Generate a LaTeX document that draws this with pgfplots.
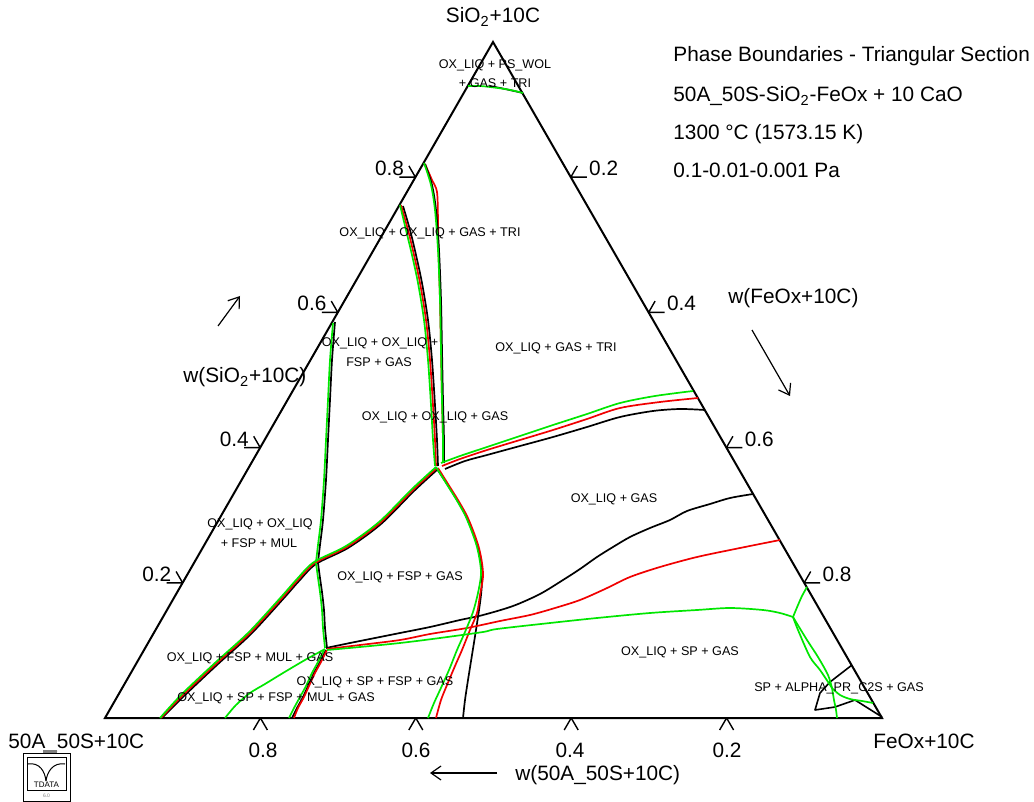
\documentclass[border=0pt]{standalone}
\usepackage{fontspec}
\setmainfont{Liberation Sans}
\usepackage{pgfplots}
\pgfplotsset{compat=1.18}
\usetikzlibrary{arrows.meta}
\newcommand{\lab}{\fontsize{10.4}{12}\selectfont}
\newcommand{\reg}{\fontsize{6.3}{7.5}\selectfont}
\definecolor{pgreen}{RGB}{0,230,0}
\definecolor{pred}{RGB}{240,0,0}
\begin{document}
\begin{tikzpicture}
\begin{axis}[scale only axis, width=517pt, height=401pt,
  xmin=0, xmax=1034, ymin=0, ymax=802, y dir=reverse,
  hide axis, clip=false,
  every axis plot/.append style={no markers, line join=round},
  blk/.style={black, line width=0.85pt, smooth, tension=0.5},
  rd/.style={pred, line width=0.85pt, smooth, tension=0.5},
  gr/.style={pgreen, line width=0.85pt, smooth, tension=0.5},
  tk/.style={black, line width=0.7pt}]
\addplot[draw=none] coordinates {(0,0) (1034,802)};
% triangle frame
\addplot[black, line width=1pt, line join=miter] coordinates {(105,718) (882,718) (493,42)} -- cycle;
% ticks left (SiO2)
\addplot[tk] coordinates {(166.6,582.8) (182.6,582.8) (176.1,571.5)};
\addplot[tk] coordinates {(244.2,447.6) (260.2,447.6) (253.7,436.3)};
\addplot[tk] coordinates {(321.8,312.4) (337.8,312.4) (331.3,301.1)};
\addplot[tk] coordinates {(399.4,177.2) (415.4,177.2) (408.9,165.9)};
% ticks right (FeOx)
\addplot[tk] coordinates {(586.8,177.2) (570.8,177.2) (577.3,165.9)};
\addplot[tk] coordinates {(664.6,312.4) (648.6,312.4) (655.1,301.1)};
\addplot[tk] coordinates {(742.4,447.6) (726.4,447.6) (732.9,436.3)};
\addplot[tk] coordinates {(820.2,582.8) (804.2,582.8) (810.7,571.5)};
% ticks bottom (50A_50S)
\addplot[tk] coordinates {(253.4,730) (260.4,718) (267.4,730)};
\addplot[tk] coordinates {(408.8,730) (415.8,718) (422.8,730)};
\addplot[tk] coordinates {(564.2,730) (571.2,718) (578.2,730)};
\addplot[tk] coordinates {(719.6,730) (726.6,718) (733.6,730)};

% ---------------- red boundaries (drawn first) ----------------
\addplot[rd] coordinates {(425,164) (432,180) (437,192) (438,220) (438.5,250) (440,300) (441,350) (442,400) (443,440) (443,462)};

% ---------------- black boundaries ----------------
\addplot[blk] coordinates {(490,86) (505,89) (523,93)};
\addplot[blk] coordinates {(425,164) (432,185) (436,210) (439,250) (441,300) (442,350) (443,400) (444,440) (444,463)};
\addplot[blk] coordinates {(403,206) (410,230) (416,255) (422,283) (428,320) (432,360) (435,405) (437,440) (438,466)};
\addplot[blk] coordinates {(445,469) (465,461) (487,455) (520,446) (553,437) (587,427) (620,417) (653,411) (680,409) (705,410)};
\addplot[blk] coordinates {(438,469) (414,491) (381,524) (348,548) (316,564) (299,581) (284,598) (251,634) (218,664) (184,696) (162,718)};
\addplot[blk] coordinates {(437,469) (447,484) (457,500) (466,516) (473,533) (478,548) (481,563) (482,580) (481,595) (479,610) (476,630) (472,655) (468,680) (465,700) (463,718)};
\addplot[blk] coordinates {(335,322) (332,360) (330,400) (328,440) (326,480) (323,520) (320,545) (318,562)};
\addplot[blk] coordinates {(318,563) (320,578) (322,592) (324,610) (325,628) (327,648)};
\addplot[blk] coordinates {(326,648) (350,643) (375,638) (400,633) (430,627) (460,620) (483,615) (513,606) (540,594) (563,580) (580,569) (597,557) (613,547) (630,537) (650,528) (670,520) (687,511) (710,504) (730,498) (753,494)};
\addplot[blk] coordinates {(326,650) (320,662) (314,673) (308,686) (303,697) (297,708) (292,718)};
\addplot[black, line width=0.8pt] coordinates {(852,665) (830,682) (820,693) (815,710) (835,707) (855,700) (882,717)};

% ---------------- red boundaries ----------------
\addplot[rd] coordinates {(401,205) (408,230) (414,255) (420,283) (426,320) (430,360) (433,405) (435,440) (436,466)};
\addplot[rd] coordinates {(442,466) (460,459) (487,450) (520,440) (553,430) (587,419) (620,408) (660,402) (698,398)};
\addplot[rd] coordinates {(437,468) (413,490) (380,523) (347,547) (315,563) (298,580) (283,597) (250,633) (217,663) (183,695) (161,718)};
\addplot[rd] coordinates {(438,468) (448,484) (458,500) (467,516) (474,533) (479,548) (482,563) (483,577) (480,595) (477,613) (470,630) (462,650) (455,666) (447,685) (441,700) (436,718)};
\addplot[rd] coordinates {(327,649) (360,645) (400,640) (430,634) (467,628) (500,621) (530,615) (555,608) (580,600) (605,589) (630,577) (660,567) (697,557) (740,548) (780,540)};
\addplot[rd] coordinates {(327,650) (321,662) (315,673) (309,686) (304,697) (298,708) (294,718)};

% ---------------- green boundaries ----------------
\addplot[gr] coordinates {(468,86) (480,86) (490,87) (505,89) (515,91) (523,93)};
\addplot[gr] coordinates {(424,163) (431,185) (435,210) (438,250) (440,300) (441,350) (442,400) (443,440) (443,462)};
\addplot[gr] coordinates {(400,205) (406,230) (412,255) (418,283) (424,320) (428,360) (431,405) (433,440) (435,466)};
\addplot[gr] coordinates {(441,463) (460,456) (487,447) (520,436) (553,425) (587,414) (620,403) (655,396) (693,391)};
\addplot[gr] coordinates {(436,467) (412,489) (379,522) (346,546) (314,562) (297,579) (282,596) (249,632) (216,662) (182,694) (160,718)};
\addplot[gr] coordinates {(436,467) (446,483) (456,499) (465,515) (472,532) (477,547) (480,562) (481,575) (478,593) (473,612) (465,632) (457,650) (449,670) (440,690) (434,703) (428,718)};
\addplot[gr] coordinates {(333,323) (330,360) (328,400) (326,440) (324,480) (321,520) (318,545) (316,562)};
\addplot[gr] coordinates {(316,563) (318,578) (320,592) (322,610) (323,628) (325,648)};
\addplot[gr] coordinates {(327,650) (360,647) (400,643) (440,638) (483,632) (497,629) (550,623) (597,618) (650,613) (697,610) (730,608) (763,610) (780,613) (793,617)};
\addplot[gr] coordinates {(325,649) (305,660) (283,673) (265,684) (250,693) (236,705) (225,718)};
\addplot[gr] coordinates {(324,650) (318,662) (312,673) (306,686) (300,697) (294,708) (289,718)};
\addplot[gr] coordinates {(793,617) (798,605) (802,596) (807,587)};
\addplot[gr] coordinates {(793,617) (807,640) (818,657) (828,675) (832,688)};
\addplot[gr] coordinates {(793,617) (798,630) (810,657) (820,670) (832,688)};
\addplot[gr] coordinates {(832,688) (834,700) (836,710) (837,718)};
\addplot[gr] coordinates {(832,688) (840,695) (850,699) (862,701) (873,703)};

% ---------------- texts ----------------
\node[font=\lab, anchor=base, inner sep=0] at (axis cs:493,23) {SiO\textsubscript{2}+10C};
\node[font=\lab, anchor=base west, inner sep=0] at (axis cs:8,748) {50A\_50S+10C};
\node[font=\lab, anchor=base west, inner sep=0] at (axis cs:873,748) {FeOx+10C};
% tick labels
\node[font=\lab, anchor=base east, inner sep=0] at (axis cs:171.6,581.3) {0.2};
\node[font=\lab, anchor=base east, inner sep=0] at (axis cs:249.2,446.1) {0.4};
\node[font=\lab, anchor=base east, inner sep=0] at (axis cs:326.8,310.9) {0.6};
\node[font=\lab, anchor=base east, inner sep=0] at (axis cs:404.4,175.7) {0.8};
\node[font=\lab, anchor=base west, inner sep=0] at (axis cs:588.8,175.7) {0.2};
\node[font=\lab, anchor=base west, inner sep=0] at (axis cs:666.6,310.9) {0.4};
\node[font=\lab, anchor=base west, inner sep=0] at (axis cs:744.4,446.1) {0.6};
\node[font=\lab, anchor=base west, inner sep=0] at (axis cs:822.2,581.3) {0.8};
\node[font=\lab, anchor=base, inner sep=0] at (axis cs:263,757) {0.8};
\node[font=\lab, anchor=base, inner sep=0] at (axis cs:416,757) {0.6};
\node[font=\lab, anchor=base, inner sep=0] at (axis cs:570,757) {0.4};
\node[font=\lab, anchor=base, inner sep=0] at (axis cs:727,757) {0.2};
% axis titles
\node[font=\lab, anchor=base west, inner sep=0] at (axis cs:183,383) {w(SiO\textsubscript{2}+10C)};
\node[font=\lab, anchor=base west, inner sep=0] at (axis cs:728,304) {w(FeOx+10C)};
\node[font=\lab, anchor=base west, inner sep=0] at (axis cs:515,780) {w(50A\_50S+10C)};
\draw[line width=0.6pt, -{Straight Barb[length=5pt,width=7pt]}] (axis cs:218,326) -- (axis cs:240,296);
\draw[line width=0.6pt, -{Straight Barb[length=5pt,width=7pt]}] (axis cs:752,330) -- (axis cs:790,396);
\draw[line width=0.6pt, -{Straight Barb[length=5pt,width=7pt]}] (axis cs:497,773) -- (axis cs:430,773);
% title block
\node[font=\lab, anchor=base west, inner sep=0] at (axis cs:673,62) {Phase Boundaries - Triangular Section};
\node[font=\lab, anchor=base west, inner sep=0] at (axis cs:673,102) {50A\_50S-SiO\textsubscript{2}-FeOx + 10 CaO};
\node[font=\lab, anchor=base west, inner sep=0] at (axis cs:673,140) {1300 °C (1573.15 K)};
\node[font=\lab, anchor=base west, inner sep=0] at (axis cs:673,178) {0.1-0.01-0.001 Pa};
% region labels
\node[font=\reg, inner sep=0] at (axis cs:495,65) {OX\_LIQ + PS\_WOL};
\node[font=\reg, inner sep=0] at (axis cs:495,83) {+ GAS + TRI};
\node[font=\reg, inner sep=0] at (axis cs:430,233) {OX\_LIQ + OX\_LIQ + GAS + TRI};
\node[font=\reg, inner sep=0] at (axis cs:380,343) {OX\_LIQ + OX\_LIQ +};
\node[font=\reg, inner sep=0] at (axis cs:379,362) {FSP + GAS};
\node[font=\reg, inner sep=0] at (axis cs:556,348) {OX\_LIQ + GAS + TRI};
\node[font=\reg, inner sep=0] at (axis cs:435,417) {OX\_LIQ + OX\_LIQ + GAS};
\node[font=\reg, inner sep=0] at (axis cs:614,499) {OX\_LIQ + GAS};
\node[font=\reg, inner sep=0] at (axis cs:260,524) {OX\_LIQ + OX\_LIQ};
\node[font=\reg, inner sep=0] at (axis cs:259,543) {+ FSP + MUL};
\node[font=\reg, inner sep=0] at (axis cs:400,577) {OX\_LIQ + FSP + GAS};
\node[font=\reg, inner sep=0] at (axis cs:250,658) {OX\_LIQ + FSP + MUL + GAS};
\node[font=\reg, inner sep=0] at (axis cs:375,682) {OX\_LIQ + SP + FSP + GAS};
\node[font=\reg, inner sep=0] at (axis cs:276,698) {OX\_LIQ + SP + FSP + MUL + GAS};
\node[font=\reg, inner sep=0] at (axis cs:680,652) {OX\_LIQ + SP + GAS};
\node[font=\reg, inner sep=0] at (axis cs:839,688) {SP + ALPHA\_PR\_C2S + GAS};
% logo
\draw[line width=0.5pt] (axis cs:23,753) rectangle (axis cs:70,801);
\fill[gray] (axis cs:43,750) rectangle (axis cs:57,753);
\draw[line width=0.4pt] (axis cs:27,757) rectangle (axis cs:66,790);
\draw[line width=0.5pt] (axis cs:28,764) .. controls (axis cs:40,762) and (axis cs:45,772) .. (axis cs:46,781);
\draw[line width=0.5pt] (axis cs:46,781) .. controls (axis cs:47,772) and (axis cs:53,762) .. (axis cs:65,764);
\node[font=\fontsize{4}{4}\selectfont, inner sep=0] at (axis cs:46.5,785) {TDATA};
\node[font=\fontsize{2.5}{3}\selectfont, inner sep=0, gray] at (axis cs:46.5,796) {6.0};
\end{axis}
\end{tikzpicture}
\end{document}
